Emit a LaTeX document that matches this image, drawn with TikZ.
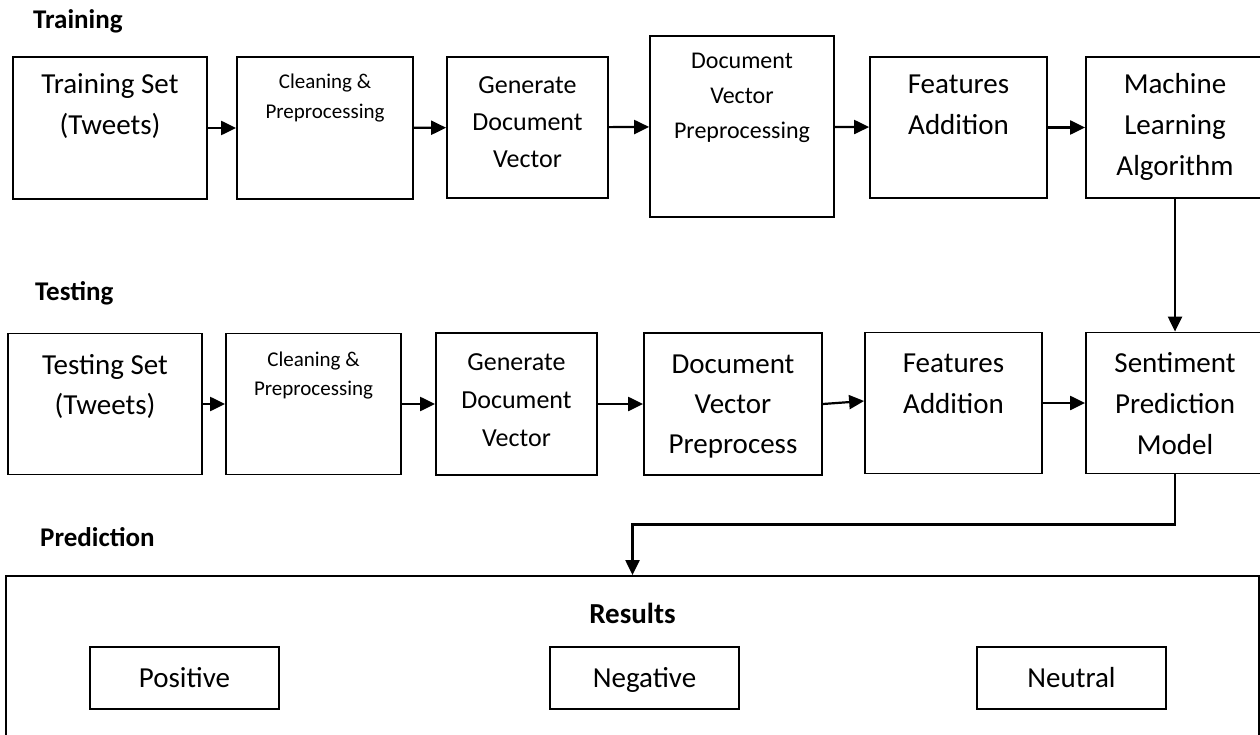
\documentclass[tikz,border=0pt]{standalone}
\usepackage{fontspec}
\setmainfont{Carlito}
\usetikzlibrary{arrows.meta}

\newcommand{\fs}[2]{\fontsize{#1}{#2}\selectfont}
\tikzset{
	stage/.style={draw, line width=1.8pt, inner sep=0pt},
	flow/.style={line width=2.2pt, -{Triangle[length=15pt,width=14pt]}},
	txt/.style={align=center, inner sep=0pt, anchor=base},
	head/.style={font=\fs{27}{32}\bfseries, anchor=base west, inner sep=0pt},
	outcome/.style={stage, minimum width=189, minimum height=62, text height=19pt, text depth=0pt, font=\fs{29}{35}}
}

\begin{document}
\begin{tikzpicture}[x=1pt, y=-1pt]
		\useasboundingbox (0,0) rectangle (1260,735);
		\clip (0,0) rectangle (1260,735);

		% training row (text nodes sit on the baseline of their last line)
		\node(trainlbl) at (33,29) [head] {Training};
		\node(tr1) at (110,128) [stage, minimum width=194, minimum height=142] {};
		\node(tr2) at (325,128) [stage, minimum width=176, minimum height=142] {};
		\node(tr3) at (527.5,127.5) [stage, minimum width=161, minimum height=141] {};
		\node(tr4) at (742,126.5) [stage, minimum width=184, minimum height=181] {};
		\node(tr5) at (958.5,127.5) [stage, minimum width=177, minimum height=141] {};
		\node(tr6) at (1175,127.5) [stage, minimum width=178, minimum height=141] {};
		\node(tr1t) at (110,135) [txt, font=\fs{29}{41}] {Training Set\\(Tweets)};
		\node(tr2t) at (325,119) [txt, font=\fs{21}{30}] {Cleaning \&\\Preprocessing};
		\node(tr3t) at (527.5,168) [txt, font=\fs{26}{37}] {Generate\\Document\\Vector};
		\node(tr4t) at (742,139) [txt, font=\fs{24}{35}] {Document\\Vector\\Preprocessing};
		\node(tr5t) at (958.5,135) [txt, font=\fs{29}{41}] {Features\\Addition};
		\node(tr6t) at (1175,176) [txt, font=\fs{29}{41}] {Machine\\Learning\\Algorithm};

		% testing row
		\node(testlbl) at (35,300) [head] {Testing};
		\node(ts1) at (105,404) [stage, minimum width=194, minimum height=141] {};
		\node(ts2) at (313.5,404) [stage, minimum width=175, minimum height=141] {};
		\node(ts3) at (516.5,404) [stage, minimum width=161, minimum height=142] {};
		\node(ts4) at (733,404) [stage, minimum width=178, minimum height=142] {};
		\node(ts5) at (953.5,403) [stage, minimum width=177, minimum height=141] {};
		\node(ts6) at (1175,403) [stage, minimum width=178, minimum height=141] {};
		\node(ts1t) at (105,414) [txt, font=\fs{29}{40}] {Testing Set\\(Tweets)};
		\node(ts2t) at (313.5,395) [txt, font=\fs{21}{29}] {Cleaning \&\\Preprocessing};
		\node(ts3t) at (516.5,446) [txt, font=\fs{26}{38}] {Generate\\Document\\Vector};
		\node(ts4t) at (733,453) [txt, font=\fs{29}{40}] {Document\\Vector\\Preprocess};
		\node(ts5t) at (953.5,413) [txt, font=\fs{29}{41}] {Features\\Addition};
		\node(ts6t) at (1175,454) [txt, font=\fs{29}{41}] {Sentiment\\Prediction\\Model};

		% prediction
		\node(predlbl) at (40,546) [head] {Prediction};
		\node(res) at (632.5,666) [stage, minimum width=1253, minimum height=180] {};
		\node(rest) at (632.5,623) [txt, font=\fs{29}{35}\bfseries] {Results};
		\node(pos) at (184.5,678) [outcome] {Positive};
		\node(neg) at (644.5,678) [outcome] {Negative};
		\node(neu) at (1071.5,678) [outcome] {Neutral};

		\draw[flow] (tr1) -- (tr2);
		\draw[flow] (tr2) -- (tr3);
		\draw[flow] (tr3) -- (tr4);
		\draw[flow] (tr4) -- (tr5);
		\draw[flow] (tr5) -- (tr6);
		\draw[flow] (tr6) -- (ts6);
		\draw[flow] (ts1) -- (ts2);
		\draw[flow] (ts2) -- (ts3);
		\draw[flow] (ts3) -- (ts4);
		\draw[flow] (ts4.east) -- ([yshift=2pt]ts5.west);
		\draw[flow] (ts5) -- (ts6);
		\draw[flow] (ts6.south) -- ++(0,50) -| (res.north);
	\end{tikzpicture}
\end{document}
